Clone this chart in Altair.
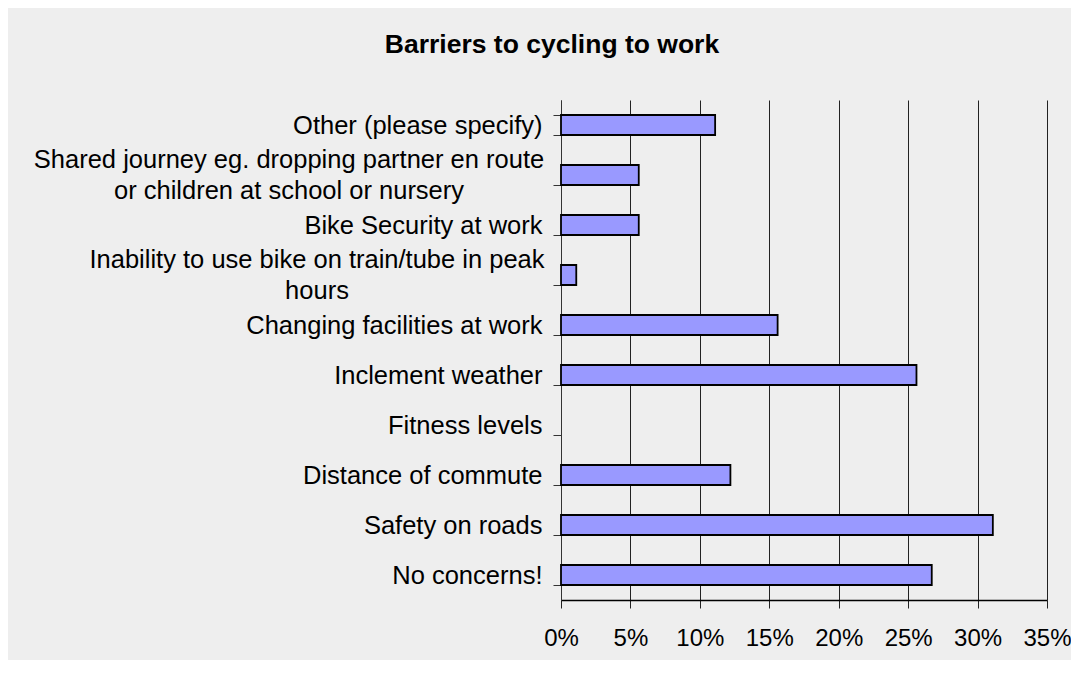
import altair as alt
import pandas as pd

# ---- data ----
categories = [
    "Other (please specify)",
    "Shared journey eg. dropping partner en route or children at school or nursery",
    "Bike Security at work",
    "Inability to use bike on train/tube in peak hours",
    "Changing facilities at work",
    "Inclement weather",
    "Fitness levels",
    "Distance of commute",
    "Safety on roads",
    "No concerns!",
]
shares = [0.111, 0.056, 0.056, 0.011, 0.156, 0.256, 0.0, 0.122, 0.311, 0.267]
x_ticks = [0.0, 0.05, 0.10, 0.15, 0.20, 0.25, 0.30, 0.35]
title_text = "Barriers to cycling to work"

# two long category labels are wrapped onto two centred lines
wrapped_cats = [categories[1], categories[3]]
wrapped_text = [
    "Shared journey eg. dropping partner en route\nor children at school or nursery",
    "Inability to use bike on train/tube in peak\nhours",
]

df = pd.DataFrame({"category": categories, "share": shares})
wrap_df = pd.DataFrame({"category": wrapped_cats, "text": wrapped_text})

FONT = "Liberation Sans, Arial, sans-serif"
LABEL_SIZE = 25.5

hide_expr = " || ".join(f"datum.label == '{c}'" for c in wrapped_cats)

y_scale = alt.Scale(domain=categories, paddingInner=0.6, paddingOuter=0.3)
y_axis = alt.Axis(
    title=None, tickBand="extent",
    domainColor="#333333", domainWidth=1,
    tickColor="#333333", tickSize=8, tickWidth=1,
    labelFont=FONT, labelFontSize=LABEL_SIZE, labelColor="#000000",
    labelPadding=11, labelAlign="right", labelLimit=0,
    labelExpr=f"({hide_expr}) ? '' : datum.label",
)
x_scale = alt.Scale(domain=[0, 0.35], nice=False, zero=True)
x_axis = alt.Axis(
    values=x_ticks, format=".0%", title=None,
    grid=True, gridColor="#222222", gridWidth=1, gridOpacity=1,
    domainColor="#000000", domainWidth=1.5,
    tickColor="#222222", tickSize=8, tickWidth=1,
    labelFont=FONT, labelFontSize=24, labelColor="#000000",
    labelPadding=18, labelFlush=False,
)

bars = alt.Chart(df).transform_filter("datum.share > 0").mark_bar(
    color="#9999ff", stroke="#000000", strokeWidth=1.8
).encode(
    x=alt.X("share:Q", scale=x_scale, axis=x_axis),
    y=alt.Y("category:N", scale=y_scale, axis=y_axis),
)

def wrapped_label(i, dx):
    return alt.Chart(wrap_df.iloc[[i]]).mark_text(
        align="center", baseline="middle", lineBreak="\n", lineHeight=31,
        font=FONT, fontSize=LABEL_SIZE, color="#000000", dx=dx, dy=-15.5,
    ).encode(
        x=alt.datum(0, scale=x_scale),
        y=alt.Y("category:N", scale=y_scale, axis=y_axis),
        text="text:N",
    )

chart = alt.layer(
    bars, wrapped_label(0, -272), wrapped_label(1, -244)
).properties(
    width=486,
    height=500,
    background="#eeeeee",
    padding={"left": 553, "top": 92, "right": 24, "bottom": 60},
    autosize=alt.AutoSizeParams(type="none"),
    title=alt.TitleParams(
        text=title_text, font=FONT, fontSize=26.5, fontWeight="bold",
        color="#000000", anchor="middle", frame="group", dx=-252,
        offset=9, baseline="alphabetic",
    ),
).configure_view(stroke=None)

chart.save("out.html", embed_options={"renderer": "svg", "actions": False})
